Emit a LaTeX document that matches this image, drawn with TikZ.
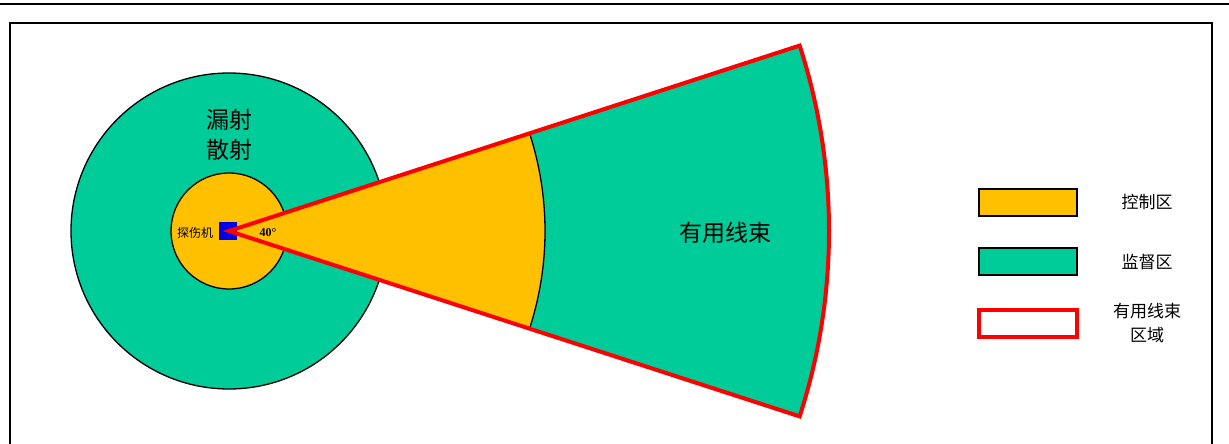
\documentclass[tikz,border=0pt]{standalone}
\usepackage{fontspec}
\newfontfamily\cjk{Noto Sans CJK SC}
\newfontfamily\tnr{Liberation Serif}
\usetikzlibrary{calc}
\definecolor{ctrl}{HTML}{FFC000}
\definecolor{supv}{HTML}{00CC99}
\definecolor{beamred}{HTML}{FF0000}
\definecolor{gunblue}{HTML}{0000EE}
\begin{document}
\begin{tikzpicture}[x=1pt,y=-1pt,
  zone/.style={line width=1.3pt, draw=black},
  legbox/.style={minimum width=98pt, minimum height=27pt, inner sep=0pt, line width=1.3pt, draw=black},
  legtext/.style={font=\cjk\fontsize{17}{24}\selectfont, align=center, inner sep=0pt},
  bigtext/.style={font=\cjk\fontsize{23}{30}\selectfont, align=center, inner sep=0pt}]
\useasboundingbox (0,0) rectangle (1229,444);
% page rule and frame
\draw[line width=1.8pt] (0,4) -- (1229,4);
\draw[line width=1.8pt] (10,450) -- (10,23) -- (1212,23) -- (1212,450);
% source point
\coordinate (src) at (229,231);
% scatter zones
\filldraw[zone, fill=supv] (src) circle[radius=158];
\filldraw[zone, fill=ctrl] (src) circle[radius=58];
% beam
\fill[supv] (src) -- ($(src)+(-18:600)$) arc[start angle=-18, end angle=18, radius=600] -- cycle;
\fill[ctrl] (src) -- ($(src)+(-18:316)$) arc[start angle=-18, end angle=18, radius=316] -- cycle;
\draw[line width=1.3pt] ($(src)+(-18:316)$) arc[start angle=-18, end angle=18, radius=316];
% source box
\node[fill=gunblue, minimum size=18pt, inner sep=0pt] (gun) at (228,231) {};
\draw[beamred, line width=4pt, line join=miter] (src) -- ($(src)+(-18:600)$) arc[start angle=-18, end angle=18, radius=600] -- cycle;
% texts
\node[bigtext] (scat) at (229,135) {漏射\\散射};
\node[bigtext] (useful) at (725,233) {有用线束};
\node[font=\cjk\fontsize{12}{14}\selectfont, inner sep=0pt] (gunlbl) at (195,233) {探伤机};
\node[font=\tnr\bfseries\fontsize{12}{14}\selectfont, inner sep=0pt] (angle) at (268,233) {40°};
% legend
\node[legbox, fill=ctrl] (lc) at (1028,202.5) {};
\node[legbox, fill=supv] (ls) at (1028,261.5) {};
\node[legbox, fill=white, draw=beamred, line width=3.2pt] (lb) at (1028,323.5) {};
\node[legtext] (lct) at (1147,202) {控制区};
\node[legtext] (lst) at (1147,262) {监督区};
\node[legtext] (lbt) at (1147,323) {有用线束\\区域};
\end{tikzpicture}
\end{document}
